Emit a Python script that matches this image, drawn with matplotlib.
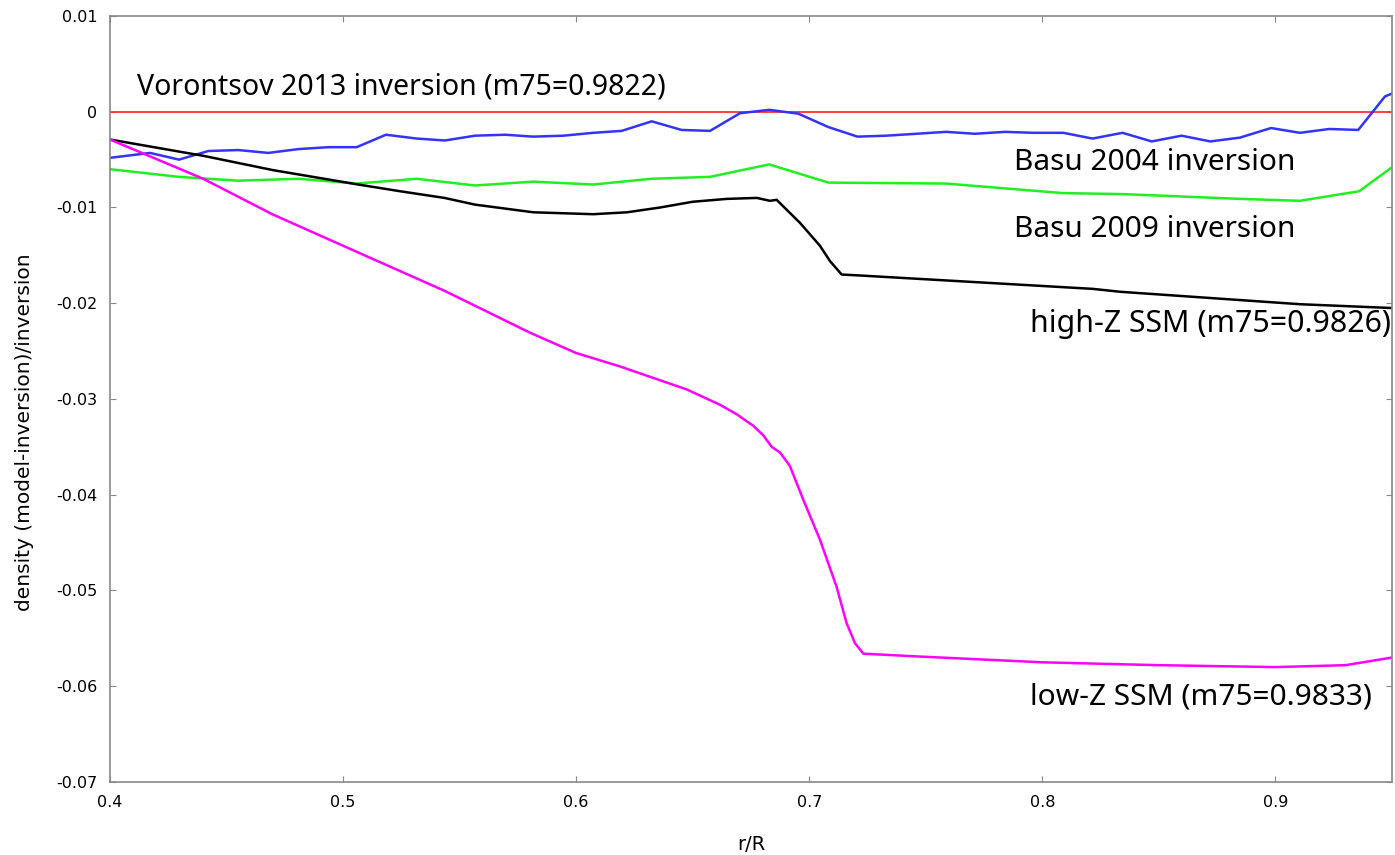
import matplotlib
matplotlib.use('Agg')
import matplotlib.pyplot as plt

# Vorontsov 2013 reference (zero line)
r_vor = [0.4, 0.95]
d_vor = [0.0, 0.0]

# Basu 2004 inversion
r_b04 = [0.4004, 0.4172, 0.4296, 0.4422, 0.455, 0.4679, 0.4808, 0.4937, 0.5058, 0.5184,
         0.5316, 0.5437, 0.5566, 0.5695, 0.5816, 0.5945, 0.6073, 0.6195, 0.6324, 0.6452,
         0.6574, 0.6703, 0.6828, 0.6953, 0.7082, 0.7207, 0.733, 0.746, 0.7587, 0.7711,
         0.784, 0.7961, 0.809, 0.8215, 0.8344, 0.8469, 0.8597, 0.8721, 0.8848, 0.8981,
         0.9105, 0.9231, 0.9355, 0.947, 0.95]
d_b04 = [-0.0048, -0.0043, -0.0050, -0.0041, -0.0040, -0.0043, -0.0039, -0.0037, -0.0037, -0.0024,
         -0.0028, -0.0030, -0.0025, -0.0024, -0.0026, -0.0025, -0.0022, -0.0020, -0.0010, -0.0019,
         -0.0020, -0.00015, 0.0002, -0.0002, -0.0016, -0.0026, -0.0025, -0.0023, -0.0021, -0.0023,
         -0.0021, -0.0022, -0.0022, -0.0028, -0.0022, -0.0031, -0.0025, -0.0031, -0.0027, -0.0017,
         -0.0022, -0.0018, -0.0019, 0.0016, 0.0019]

# Basu 2009 inversion
r_b09 = [0.4, 0.4296, 0.455, 0.4808, 0.5058, 0.5316, 0.5566, 0.5816, 0.6073, 0.6324,
         0.6574, 0.6828, 0.7082, 0.7587, 0.809, 0.8344, 0.8848, 0.9105, 0.9359, 0.95]
d_b09 = [-0.0060, -0.0068, -0.0072, -0.0070, -0.0075, -0.0070, -0.0077, -0.0073, -0.0076, -0.0070,
         -0.0068, -0.0055, -0.0074, -0.0075, -0.0085, -0.0086, -0.0091, -0.0093, -0.0083, -0.0058]

# high-Z SSM
r_hz = [0.4, 0.44, 0.47, 0.5065, 0.5244, 0.5435, 0.5566, 0.5816, 0.6073, 0.6218,
        0.636, 0.650, 0.6647, 0.6775, 0.6831, 0.686, 0.696, 0.7046, 0.7089, 0.7139,
        0.7217, 0.7646, 0.8217, 0.8333, 0.9105, 0.95]
d_hz = [-0.0029, -0.0046, -0.0061, -0.0076, -0.0083, -0.0090, -0.0097, -0.0105, -0.0107, -0.0105,
        -0.0100, -0.0094, -0.0091, -0.0090, -0.0093, -0.0092, -0.0116, -0.0140, -0.0156, -0.0170,
        -0.0171, -0.0177, -0.0185, -0.0188, -0.0201, -0.0205]

# low-Z SSM
r_lz = [0.4, 0.44, 0.4696, 0.5065, 0.5435, 0.5804, 0.6, 0.6188, 0.6331, 0.6474,
        0.6617, 0.6689, 0.676, 0.6803, 0.6839, 0.6875, 0.6917, 0.6974, 0.7046, 0.7117,
        0.716, 0.7196, 0.7232, 0.7475, 0.8, 0.85, 0.9, 0.93, 0.95]
d_lz = [-0.0029, -0.0070, -0.0107, -0.0147, -0.0187, -0.0231, -0.0252, -0.0266, -0.0278, -0.0290,
        -0.0306, -0.0316, -0.0328, -0.0338, -0.0350, -0.0356, -0.0370, -0.0405, -0.0447, -0.0496,
        -0.0534, -0.0555, -0.0566, -0.0569, -0.0575, -0.0578, -0.0580, -0.0578, -0.0570]

xticks = [0.4, 0.5, 0.6, 0.7, 0.8, 0.9]
yticks = [0.01, 0, -0.01, -0.02, -0.03, -0.04, -0.05, -0.06, -0.07]

fig = plt.figure(figsize=(13.95, 8.55), dpi=100)
ax = fig.add_axes([110 / 1395, 73 / 855, 1282 / 1395, 766 / 855])

ax.plot(r_vor, d_vor, color='#ff3030', linewidth=1.3)
ax.plot(r_b04, d_b04, color='#3333ff', linewidth=1.8)
ax.plot(r_b09, d_b09, color='#22ee22', linewidth=1.8)
ax.plot(r_hz, d_hz, color='black', linewidth=1.8)
ax.plot(r_lz, d_lz, color='#ff00ff', linewidth=1.8)

ax.set_xlim(0.4, 0.95)
ax.set_ylim(-0.07, 0.01)
ax.set_xticks(xticks)
ax.set_yticks(yticks)
ax.set_xticklabels([str(t) for t in xticks])
ax.set_yticklabels([str(t) for t in yticks])

for s in ax.spines.values():
    s.set_color('#888888')
    s.set_linewidth(1.2)
ax.tick_params(direction='in', length=4, color='#888888', top=True, right=True,
               labelsize=11.5, pad=9)

lab_font = ['Liberation Sans Narrow', 'DejaVu Sans']
ax.set_xlabel('r/R', fontsize=14, family=lab_font, labelpad=18)
ax.set_ylabel('density (model-inversion)/inversion', fontsize=14.5, family=lab_font)
ax.yaxis.set_label_coords(-0.059, 0.457)

txt_font = ['Noto Sans', 'DejaVu Sans']
ax.text(0.4115, 0.0026, 'Vorontsov 2013 inversion (m75=0.9822)', fontsize=20.5, family=txt_font, va='center')
ax.text(0.788, -0.0053, 'Basu 2004 inversion', fontsize=21.5, family=txt_font, va='center')
ax.text(0.788, -0.0123, 'Basu 2009 inversion', fontsize=21.5, family=txt_font, va='center')
ax.text(0.7945, -0.0222, 'high-Z SSM (m75=0.9826)', fontsize=21.8, family=txt_font, va='center',
        clip_on=True)
ax.text(0.7945, -0.0611, 'low-Z SSM (m75=0.9833)', fontsize=21.5, family=txt_font, va='center')

fig.savefig('out.png', dpi=100)
